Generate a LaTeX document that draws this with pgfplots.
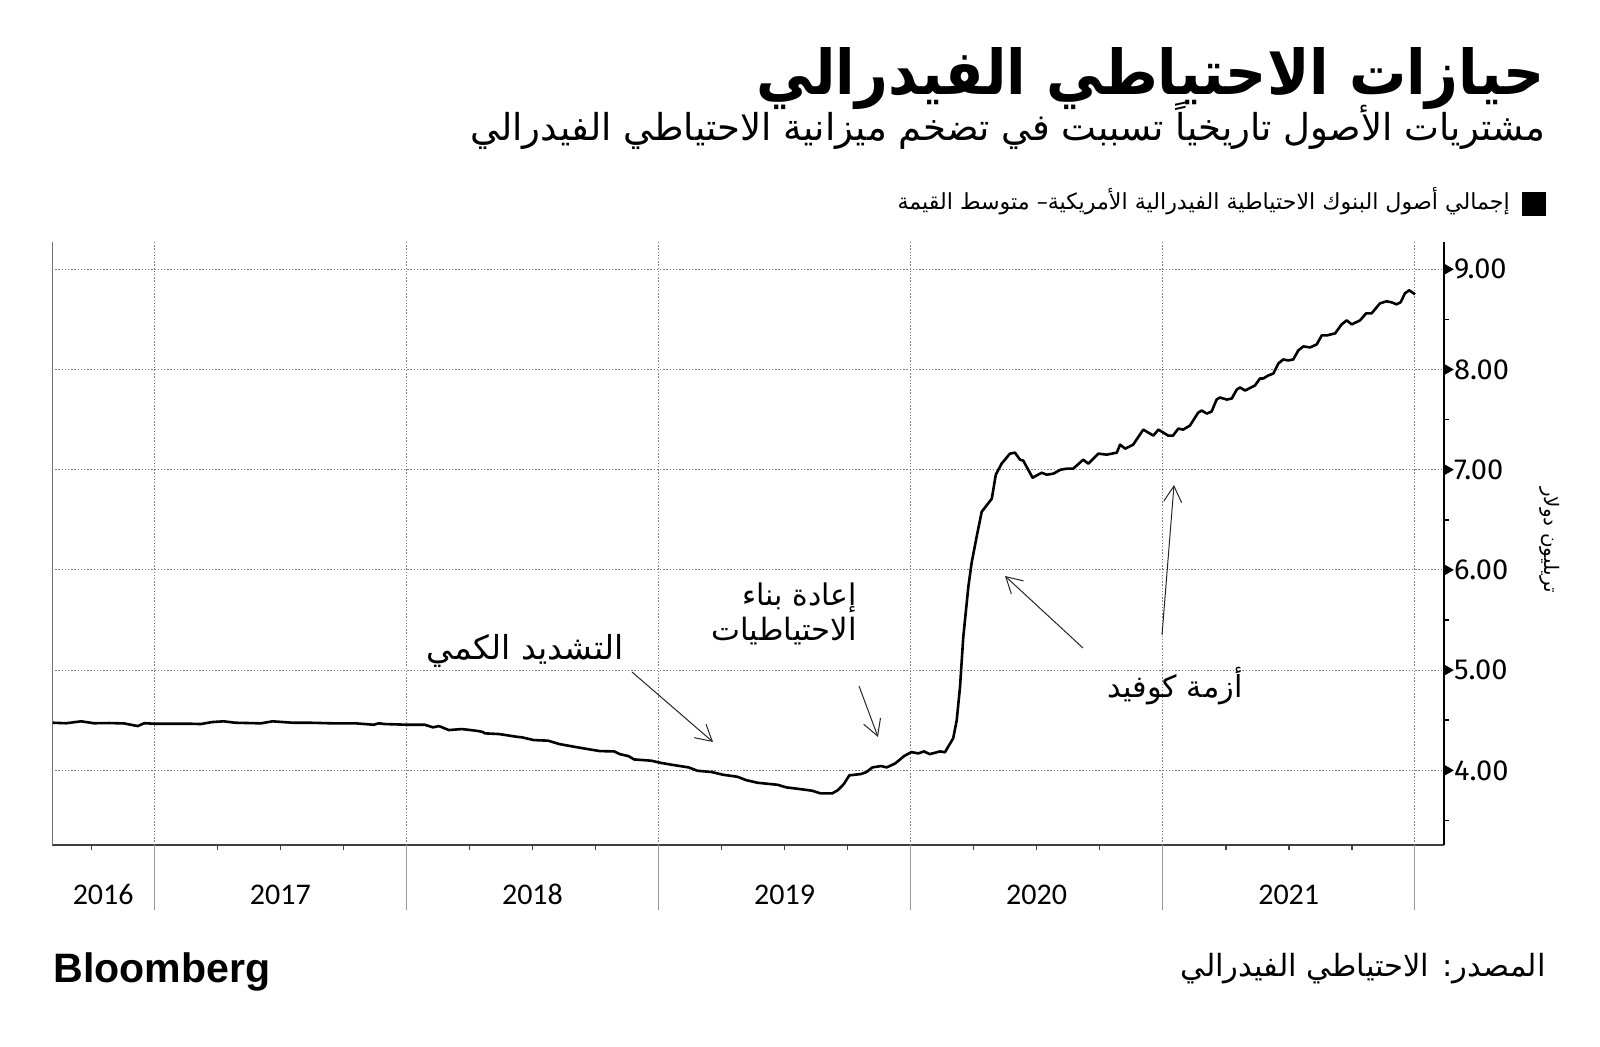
\documentclass[border=0pt]{standalone}
\usepackage{fontspec}
\usepackage{pgfplots}
\pgfplotsset{compat=1.18}
\usetikzlibrary{arrows.meta}
\TeXXeTstate=1
\newfontfamily\arabicfont[Script=Arabic]{DejaVu Sans}
\newfontfamily\arabicbold[Script=Arabic]{DejaVu Sans Bold}
\newfontfamily\yearfont{Carlito}
\newfontfamily\tickfont{Fira Sans}
\newfontfamily\logofont{Liberation Sans Bold}

\pgfplotstableread{
x y
2016.597 4.475
2016.650 4.470
2016.710 4.489
2016.760 4.470
2016.820 4.472
2016.880 4.468
2016.934 4.442
2016.960 4.470
2017.002 4.465
2017.143 4.465
2017.184 4.462
2017.230 4.482
2017.275 4.489
2017.320 4.475
2017.423 4.469
2017.469 4.489
2017.549 4.475
2017.617 4.475
2017.708 4.469
2017.799 4.469
2017.870 4.455
2017.890 4.469
2017.913 4.462
2018.004 4.455
2018.072 4.455
2018.106 4.429
2018.129 4.442
2018.168 4.402
2018.220 4.412
2018.277 4.395
2018.300 4.385
2018.312 4.369
2018.368 4.362
2018.437 4.335
2018.459 4.329
2018.505 4.302
2018.562 4.296
2018.607 4.262
2018.664 4.236
2018.710 4.216
2018.767 4.192
2018.824 4.189
2018.846 4.162
2018.881 4.142
2018.903 4.109
2018.972 4.096
2019.006 4.076
2019.052 4.056
2019.120 4.029
2019.154 3.996
2019.211 3.983
2019.256 3.956
2019.313 3.936
2019.347 3.903
2019.393 3.876
2019.472 3.856
2019.507 3.830
2019.552 3.816
2019.609 3.797
2019.643 3.770
2019.689 3.770
2019.712 3.803
2019.735 3.863
2019.757 3.950
2019.803 3.963
2019.825 3.983
2019.848 4.029
2019.883 4.043
2019.905 4.029
2019.939 4.069
2019.974 4.142
2020.003 4.182
2020.031 4.169
2020.053 4.189
2020.076 4.162
2020.117 4.189
2020.136 4.180
2020.169 4.320
2020.183 4.500
2020.196 4.830
2020.209 5.330
2020.229 5.830
2020.242 6.070
2020.262 6.330
2020.282 6.580
2020.322 6.710
2020.338 6.950
2020.361 7.060
2020.394 7.160
2020.414 7.170
2020.434 7.100
2020.447 7.090
2020.484 6.920
2020.520 6.970
2020.540 6.950
2020.566 6.960
2020.595 7.000
2020.619 7.010
2020.645 7.010
2020.685 7.100
2020.705 7.060
2020.745 7.160
2020.778 7.150
2020.818 7.170
2020.831 7.250
2020.851 7.210
2020.883 7.250
2020.923 7.400
2020.963 7.340
2020.983 7.400
2021.022 7.340
2021.041 7.340
2021.062 7.410
2021.081 7.400
2021.108 7.440
2021.141 7.570
2021.155 7.590
2021.175 7.560
2021.194 7.580
2021.214 7.700
2021.227 7.720
2021.254 7.700
2021.274 7.710
2021.294 7.800
2021.307 7.820
2021.327 7.790
2021.366 7.840
2021.386 7.910
2021.399 7.910
2021.419 7.940
2021.439 7.960
2021.459 8.060
2021.478 8.100
2021.498 8.090
2021.518 8.100
2021.538 8.190
2021.558 8.230
2021.585 8.220
2021.611 8.250
2021.631 8.340
2021.651 8.340
2021.684 8.360
2021.710 8.450
2021.730 8.490
2021.750 8.450
2021.783 8.490
2021.807 8.560
2021.829 8.560
2021.862 8.660
2021.888 8.680
2021.908 8.670
2021.928 8.650
2021.944 8.670
2021.961 8.760
2021.978 8.790
2022.001 8.750
}\fedassets

\begin{document}
\begin{tikzpicture}
\path[use as bounding box] (0,0) rectangle (800pt,-523.5pt);
\begin{axis}[
  at={(26pt,-422.5pt)}, anchor=south west,
  scale only axis, width=696pt, height=301.5pt,
  xmin=2016.594, xmax=2022.116, ymin=3.255, ymax=9.272,
  clip=false,
  axis x line*=bottom, axis y line*=right,
  x axis line style={draw=black!75, line width=1pt, -},
  y axis line style={draw=black, line width=1.2pt, -},
  xtick={2016.797,2017.5,2018.5,2019.5,2020.5,2021.5},
  xticklabels={2016,2017,2018,2019,2020,2021},
  minor xtick={2016.75,2017.25,2017.5,2017.75,2018.25,2018.5,2018.75,2019.25,2019.5,2019.75,2020.25,2020.5,2020.75,2021.25,2021.5,2021.75},
  ytick={4,5,6,7,8,9},
  yticklabels={4.00,5.00,6.00,7.00,8.00,9.00},
  minor ytick={3.5,4.5,5.5,6.5,7.5,8.5},
  tick align=outside,
  major tick length=0pt, minor tick length=2.5pt,
  every major x tick/.style={draw=none},
  every minor x tick/.style={draw=black!75, line width=0.8pt},
  every minor y tick/.style={draw=black, line width=0.8pt},
  ymajorgrids,
  major grid style={draw=black!50, line width=0.5pt, dash pattern=on 0.7pt off 0.9pt},
  yticklabel style={font=\tickfont\fontsize{14.5}{15}\selectfont, xshift=1.5pt},
  xticklabel style={font=\yearfont\fontsize{15}{16}\selectfont, anchor=base, yshift=-29.5pt},
]
\pgfplotsinvokeforeach{2017,2018,2019,2020,2021,2022}{
  \draw[black!50, line width=0.5pt, dash pattern=on 0.7pt off 0.9pt] (axis cs:#1,3.255) -- (axis cs:#1,9.272);
  \draw[black!40, line width=0.6pt] (axis cs:#1,3.255) -- ++(0pt,-32.5pt);
}
\draw[black!55, line width=0.5pt] (rel axis cs:0,0) -- (rel axis cs:0,1);
\addplot[black, line width=1.3pt, line join=round] table[x=x,y=y] {\fedassets};
\addplot[only marks, mark=triangle*, mark size=3pt, mark options={xshift=1.5pt, rotate=-90, fill=black, draw=black}]
  coordinates {(2022.116,4) (2022.116,5) (2022.116,6) (2022.116,7) (2022.116,8) (2022.116,9)};
\end{axis}

\begin{scope}[x=0.5pt,y=-0.5pt]
% title and subtitle
\node[anchor=base east, inner sep=0] at (1545,95)
  {\resizebox{394pt}{23.5pt}{\arabicbold\beginR حيازات الاحتياطي الفيدرالي\endR}};
\node[anchor=base east, inner sep=0] at (1546,141)
  {\resizebox{537.5pt}{!}{\arabicfont\beginR مشتريات الأصول تاريخياً تسببت في تضخم ميزانية الاحتياطي الفيدرالي\endR}};
% legend
\fill[black] (1522,192) rectangle (1546,216);
\node[anchor=base east, inner sep=0] at (1510,210)
  {\resizebox{306pt}{!}{\arabicfont\beginR إجمالي أصول البنوك الاحتياطية الفيدرالية الأمريكية– متوسط القيمة\endR}};
% y axis label
\node[rotate=-90, inner sep=0, font=\arabicfont\fontsize{10}{12}\selectfont] at (1550,540)
  {\beginR تريليون دولار\endR};
% annotations
\node[anchor=base east, inner sep=0] at (624,659)
  {\resizebox{98.5pt}{!}{\arabicfont\beginR التشديد الكمي\endR}};
\node[anchor=base east, inner sep=0] at (857,605)
  {\resizebox{57pt}{!}{\arabicfont\beginR إعادة بناء\endR}};
\node[anchor=base east, inner sep=0] at (857,640)
  {\resizebox{72.5pt}{!}{\arabicfont\beginR الاحتياطيات\endR}};
\node[anchor=base east, inner sep=0] at (1243,697)
  {\resizebox{67.5pt}{!}{\arabicfont\beginR أزمة كوفيد\endR}};
\begin{scope}[draw=black!85, line width=0.5pt, -{Straight Barb[length=8pt,width=9pt]}]
\draw (632,672) -- (713,742);
\draw (859,686) -- (878,737);
\draw (1083,648) -- (1005,576);
\draw (1162,635) -- (1174,485);
\end{scope}
% footer
\node[anchor=base west, inner sep=0] at (53,982)
  {\resizebox{108.5pt}{!}{\logofont Bloomberg}};
\node[anchor=base east, inner sep=0] at (1546,976)
  {\resizebox{182.5pt}{!}{\arabicfont\beginR المصدر: الاحتياطي الفيدرالي\endR}};
\end{scope}
\end{tikzpicture}
\end{document}
